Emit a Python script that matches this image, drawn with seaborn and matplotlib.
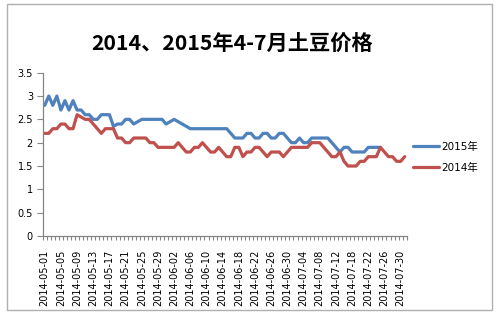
import numpy as np
import pandas as pd
import matplotlib
matplotlib.use("Agg")
import matplotlib.pyplot as plt
import seaborn as sns
from matplotlib.patches import Rectangle

# ---- data -------------------------------------------------------------
dates = (pd.date_range("2014-05-01", "2014-07-31")
         .drop(pd.to_datetime(["2014-07-13", "2014-07-14"]))
         .strftime("%Y-%m-%d").tolist())

price_2015 = [2.8, 3.0, 2.8, 3.0, 2.7, 2.9, 2.7, 2.9, 2.7, 2.7,
              2.6, 2.6, 2.5, 2.5, 2.6, 2.6, 2.6, 2.35, 2.4, 2.4,
              2.5, 2.5, 2.4, 2.45, 2.5, 2.5, 2.5, 2.5, 2.5, 2.5,
              2.4, 2.45, 2.5, 2.45, 2.4, 2.35, 2.3, 2.3, 2.3, 2.3,
              2.3, 2.3, 2.3, 2.3, 2.3, 2.3, 2.2, 2.1, 2.1, 2.1,
              2.2, 2.2, 2.1, 2.1, 2.2, 2.2, 2.1, 2.1, 2.2, 2.2,
              2.1, 2.0, 2.0, 2.1, 2.0, 2.0, 2.1, 2.1, 2.1, 2.1,
              2.1, 2.0, 1.9, 1.8, 1.9, 1.9, 1.8, 1.8, 1.8, 1.8,
              1.9, 1.9, 1.9, 1.9]

price_2014 = [2.2, 2.2, 2.3, 2.3, 2.4, 2.4, 2.3, 2.3, 2.6, 2.55,
              2.5, 2.5, 2.4, 2.3, 2.2, 2.3, 2.3, 2.3, 2.1, 2.1,
              2.0, 2.0, 2.1, 2.1, 2.1, 2.1, 2.0, 2.0, 1.9, 1.9,
              1.9, 1.9, 1.9, 2.0, 1.9, 1.8, 1.8, 1.9, 1.9, 2.0,
              1.9, 1.8, 1.8, 1.9, 1.8, 1.7, 1.7, 1.9, 1.9, 1.7,
              1.8, 1.8, 1.9, 1.9, 1.8, 1.7, 1.8, 1.8, 1.8, 1.7,
              1.8, 1.9, 1.9, 1.9, 1.9, 1.9, 2.0, 2.0, 2.0, 1.9,
              1.8, 1.7, 1.7, 1.8, 1.6, 1.5, 1.5, 1.5, 1.6, 1.6,
              1.7, 1.7, 1.7, 1.9, 1.8, 1.7, 1.7, 1.6, 1.6, 1.7]

series_names = ["2015年", "2014年"]
series_colors = ["#4F81BD", "#C0504D"]
ytick_values = [0, 0.5, 1, 1.5, 2, 2.5, 3, 3.5]
ytick_labels = ["0", "0.5", "1", "1.5", "2", "2.5", "3", "3.5"]
title_text = "2014、2015年4-7月土豆价格"

df = pd.concat([
    pd.DataFrame({"pos": np.arange(len(price_2015)), "date": dates[:len(price_2015)],
                  "price": price_2015, "series": series_names[0]}),
    pd.DataFrame({"pos": np.arange(len(price_2014)), "date": dates[:len(price_2014)],
                  "price": price_2014, "series": series_names[1]}),
], ignore_index=True)

# ---- style ------------------------------------------------------------
sns.set_style("white")
plt.rcParams["font.family"] = ["DejaVu Sans", "Noto Sans CJK SC"]
plt.rcParams["text.color"] = "black"
plt.rcParams["xtick.color"] = "black"
plt.rcParams["ytick.color"] = "black"

fig = plt.figure(figsize=(5.0, 3.18), dpi=100)
fig.patch.set_facecolor("white")
fig.add_artist(Rectangle((7 / 500, 1 - 310 / 318), 485 / 500, 306 / 318,
                         transform=fig.transFigure, fill=False,
                         edgecolor="#B0B0B0", lw=1.0))

ax = fig.add_axes([42.7 / 500, 1 - 236 / 318, 364 / 500, 163.3 / 318])
sns.lineplot(data=df, x="pos", y="price", hue="series", hue_order=series_names,
             palette=series_colors, linewidth=2.3, sort=False, ax=ax)

ax.set_xlim(-0.5, len(dates) - 0.5)
ax.set_ylim(0, 3.5)
ax.set_xlabel("")
ax.set_ylabel("")
ax.set_yticks(ytick_values)
ax.set_yticklabels(ytick_labels)
major_pos = list(range(0, len(dates), 4))
ax.set_xticks(major_pos)
ax.set_xticklabels([dates[i] for i in major_pos], rotation=90)
ax.set_xticks(np.arange(-0.5, len(dates), 1), minor=True)

ax.tick_params(axis="x", which="major", length=0, pad=10, labelsize=7, labelcolor="black")
ax.tick_params(axis="x", which="minor", length=3, width=0.8, color="#868686",
               direction="out", bottom=True)
ax.tick_params(axis="y", which="major", length=4, width=0.8, color="#868686",
               direction="out", left=True, labelsize=7, pad=3, labelcolor="black")

for s in ["top", "right"]:
    ax.spines[s].set_visible(False)
for s in ["left", "bottom"]:
    ax.spines[s].set_color("#868686")
    ax.spines[s].set_linewidth(0.9)
ax.grid(False)

handles, labels = ax.get_legend_handles_labels()
leg = ax.legend(handles, labels, loc="center left",
                bbox_to_anchor=(413 / 500, 1 - 157.5 / 318), bbox_transform=fig.transFigure,
                frameon=False, fontsize=7.5, handlelength=2.5, handletextpad=0.2,
                labelspacing=1.05, borderpad=0, borderaxespad=0)
for t in leg.get_texts():
    t.set_color("black")

fig.text(232 / 500, 1 - 43 / 318, title_text, ha="center", va="center", color="black",
         fontsize=15.3, fontweight="bold", family=["Noto Sans CJK SC", "DejaVu Sans"])

fig.savefig("out.png", dpi=100)
